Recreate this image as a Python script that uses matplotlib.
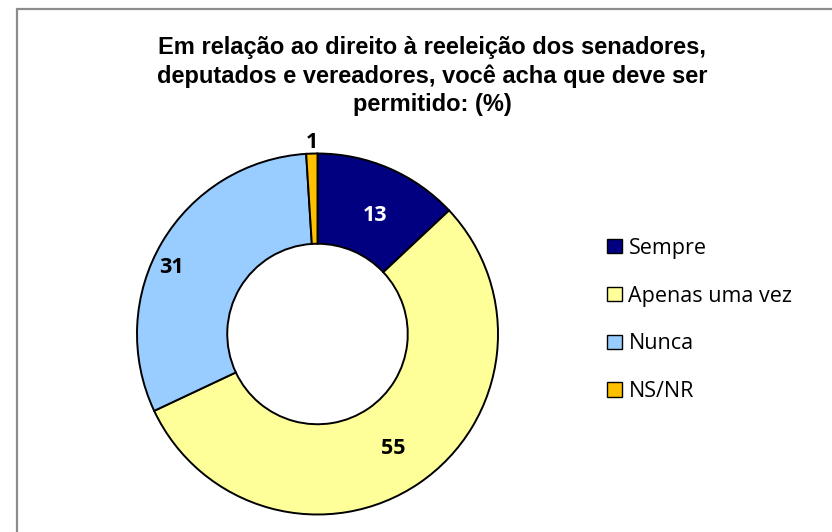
import matplotlib
matplotlib.use("Agg")
import matplotlib.pyplot as plt
from matplotlib.patches import Rectangle
import numpy as np

categories = ["Sempre", "Apenas uma vez", "Nunca", "NS/NR"]
values = [13, 55, 31, 1]
colors = ["#000080", "#FFFF99", "#99CCFF", "#FFC000"]
label_colors = ["white", "black", "black", "black"]
label_radius = [0.73, 0.76, 0.886, 1.064]
label_shift_deg = [2.4, 0.7, -6.2, 0.2]
title = "Em relação ao direito à reeleição dos senadores,\ndeputados e vereadores, você acha que deve ser\npermitido: (%)"

W, H = 832, 532
fig = plt.figure(figsize=(W / 100, H / 100), dpi=100)
fig.patch.set_facecolor("white")

# outer frame
fig.add_artist(Rectangle((16.5 / W, -0.1), 1.2, (H - 9) / H + 0.1,
                         transform=fig.transFigure, fill=False,
                         edgecolor="#8c8c8c", linewidth=1.6))

cx, cy, R = 317.5, 334.0, 180.5
ax = fig.add_axes([(cx - R) / W, (H - cy - R) / H, 2 * R / W, 2 * R / H])

wedges, _ = ax.pie(values, colors=colors, startangle=90, counterclock=False,
                   radius=1.0, wedgeprops=dict(width=0.5, edgecolor="black", linewidth=1.4))
ax.set_xlim(-1, 1)
ax.set_ylim(-1, 1)
ax.set_aspect("equal")
ax.axis("off")

total = sum(values)
cum = 0
for v, lc, lr, sh in zip(values, label_colors, label_radius, label_shift_deg):
    mid = (cum + v / 2) / total
    ang = np.deg2rad(90 - 360 * mid - sh)
    ax.text(lr * np.cos(ang), lr * np.sin(ang), str(v), ha="center", va="center",
            color=lc, fontsize=15.5, fontweight="bold", family="Open Sans")
    cum += v

fig.text(432 / W, 1 - 76 / H, title, ha="center", va="center",
         fontsize=17, fontweight="bold", family="Liberation Sans",
         linespacing=1.3)

leg = fig.legend(wedges, categories, loc="center left",
                 bbox_to_anchor=(588 / W, 1 - 320 / H), frameon=False,
                 prop=dict(family="Open Sans", size=15.5),
                 handlelength=0.68, handleheight=0.68, handletextpad=0.3,
                 labelspacing=1.25)
for h in leg.legend_handles:
    h.set_linewidth(1.0)
    h.set_edgecolor("black")

fig.savefig("out.png", dpi=100, facecolor="white")
